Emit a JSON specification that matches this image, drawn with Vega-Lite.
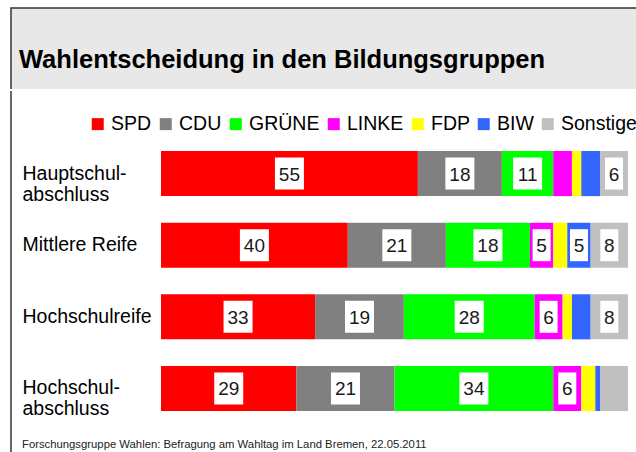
{
  "$schema": "https://vega.github.io/schema/vega-lite/v6.json",
  "padding": {"left": 10, "top": 7, "right": 0, "bottom": 0},
  "background": "white",
  "spacing": 0,
  "config": {
    "font": "Liberation Sans",
    "concat": {"spacing": 0}
  },
  "datasets": {
    "umfrage": [
      {"gruppe": "Hauptschul-|abschluss", "partei": "SPD", "anteil": 55, "label": 55},
      {"gruppe": "Hauptschul-|abschluss", "partei": "CDU", "anteil": 18, "label": 18},
      {"gruppe": "Hauptschul-|abschluss", "partei": "GRÜNE", "anteil": 11, "label": 11},
      {"gruppe": "Hauptschul-|abschluss", "partei": "LINKE", "anteil": 4, "label": null},
      {"gruppe": "Hauptschul-|abschluss", "partei": "FDP", "anteil": 2, "label": null},
      {"gruppe": "Hauptschul-|abschluss", "partei": "BIW", "anteil": 4, "label": null},
      {"gruppe": "Hauptschul-|abschluss", "partei": "Sonstige", "anteil": 6, "label": 6},
      {"gruppe": "Mittlere Reife", "partei": "SPD", "anteil": 40, "label": 40},
      {"gruppe": "Mittlere Reife", "partei": "CDU", "anteil": 21, "label": 21},
      {"gruppe": "Mittlere Reife", "partei": "GRÜNE", "anteil": 18, "label": 18},
      {"gruppe": "Mittlere Reife", "partei": "LINKE", "anteil": 5, "label": 5},
      {"gruppe": "Mittlere Reife", "partei": "FDP", "anteil": 3, "label": null},
      {"gruppe": "Mittlere Reife", "partei": "BIW", "anteil": 5, "label": 5},
      {"gruppe": "Mittlere Reife", "partei": "Sonstige", "anteil": 8, "label": 8},
      {"gruppe": "Hochschulreife", "partei": "SPD", "anteil": 33, "label": 33},
      {"gruppe": "Hochschulreife", "partei": "CDU", "anteil": 19, "label": 19},
      {"gruppe": "Hochschulreife", "partei": "GRÜNE", "anteil": 28, "label": 28},
      {"gruppe": "Hochschulreife", "partei": "LINKE", "anteil": 6, "label": 6},
      {"gruppe": "Hochschulreife", "partei": "FDP", "anteil": 2, "label": null},
      {"gruppe": "Hochschulreife", "partei": "BIW", "anteil": 4, "label": null},
      {"gruppe": "Hochschulreife", "partei": "Sonstige", "anteil": 8, "label": 8},
      {"gruppe": "Hochschul-|abschluss", "partei": "SPD", "anteil": 29, "label": 29},
      {"gruppe": "Hochschul-|abschluss", "partei": "CDU", "anteil": 21, "label": 21},
      {"gruppe": "Hochschul-|abschluss", "partei": "GRÜNE", "anteil": 34, "label": 34},
      {"gruppe": "Hochschul-|abschluss", "partei": "LINKE", "anteil": 6, "label": 6},
      {"gruppe": "Hochschul-|abschluss", "partei": "FDP", "anteil": 3, "label": null},
      {"gruppe": "Hochschul-|abschluss", "partei": "BIW", "anteil": 1, "label": null},
      {"gruppe": "Hochschul-|abschluss", "partei": "Sonstige", "anteil": 6, "label": null}
    ]
  },
  "vconcat": [
    {
      "width": 630,
      "height": 81,
      "view": {"fill": "#e8e8e8", "stroke": "#333333", "strokeWidth": 1.5, "strokeDash": [711, 630, 200]},
      "title": {
        "text": "Wahlentscheidung in den Bildungsgruppen",
        "orient": "bottom",
        "anchor": "start",
        "frame": "group",
        "offset": -21,
        "baseline": "alphabetic",
        "dx": 8,
        "fontSize": 25.5,
        "fontWeight": "bold",
        "color": "#000000"
      },
      "data": {"values": [{}]},
      "mark": {"type": "text", "text": ""},
      "encoding": {}
    },
    {
      "width": 630,
      "height": 364,
      "view": {"fill": "white", "stroke": "#333333", "strokeWidth": 1.5, "strokeDash": [0, 1624, 400]},
      "title": {
        "text": "Forschungsgruppe Wahlen: Befragung am Wahltag im Land Bremen, 22.05.2011",
        "orient": "bottom",
        "anchor": "start",
        "frame": "group",
        "offset": -10,
        "baseline": "middle",
        "dx": 11,
        "fontSize": 11.3,
        "fontWeight": "normal",
        "color": "#222222"
      },
      "data": {"name": "umfrage"},
      "transform": [
        {"calculate": "indexof(['SPD','CDU','GRÜNE','LINKE','FDP','BIW','Sonstige'], datum.partei)", "as": "reihenfolge"},
        {"stack": "anteil", "groupby": ["gruppe"], "sort": [{"field": "reihenfolge", "order": "ascending"}], "as": ["x0", "x1"]},
        {"calculate": "(datum.x0 + datum.x1) / 2", "as": "mitte"}
      ],
      "encoding": {
        "y": {
          "field": "gruppe",
          "type": "nominal",
          "sort": ["Hauptschul-|abschluss", "Mittlere Reife", "Hochschulreife", "Hochschul-|abschluss"],
          "scale": {"range": [60, 320], "paddingInner": 0.37, "paddingOuter": 0},
          "axis": {
            "title": null,
            "domain": false,
            "ticks": false,
            "grid": false,
            "labelAlign": "left",
            "labelBaseline": "middle",
            "labelPadding": -11,
            "labelFontSize": 19.5,
            "labelLineHeight": 21,
            "labelColor": "#000000",
            "labelLimit": 0,
            "labelExpr": "split(datum.label, '|')"
          }
        }
      },
      "layer": [
        {
          "mark": {"type": "bar"},
          "encoding": {
            "x": {"field": "x0", "type": "quantitative", "scale": {"domain": [0, 100], "range": [150, 617]}, "axis": null},
            "x2": {"field": "x1"},
            "color": {
              "field": "partei",
              "type": "nominal",
              "scale": {
                "domain": ["SPD", "CDU", "GRÜNE", "LINKE", "FDP", "BIW", "Sonstige"],
                "range": ["#ff0000", "#808080", "#00ff00", "#ff00ff", "#ffff00", "#3366ff", "#c0c0c0"]
              },
              "legend": {
                "orient": "none",
                "legendX": 77,
                "legendY": 106,
                "direction": "horizontal",
                "title": null,
                "symbolType": "square",
                "symbolSize": 144,
                "symbolStrokeWidth": 0,
                "symbolOpacity": 1,
                "labelFontSize": 19.5,
                "labelColor": "#000000",
                "labelOffset": 3.5,
                "columnPadding": 4,
                "padding": 0,
                "labelLimit": 0
              }
            }
          }
        },
        {
          "transform": [{"filter": "isValid(datum.label)"}],
          "mark": {"type": "point", "filled": true, "fill": "white", "opacity": 1, "strokeWidth": 0, "size": 400},
          "encoding": {
            "x": {"field": "mitte", "type": "quantitative"},
            "shape": {
              "condition": {"test": "datum.label >= 10", "value": "M-1.45,-1.6H1.45V1.6H-1.45Z"},
              "value": "M-0.9,-1.6H0.9V1.6H-0.9Z"
            }
          }
        },
        {
          "transform": [{"filter": "isValid(datum.label)"}],
          "mark": {"type": "text", "fontSize": 19, "color": "#1a1a1a", "align": "center", "baseline": "middle", "dy": 1},
          "encoding": {
            "x": {"field": "mitte", "type": "quantitative"},
            "text": {"field": "label", "type": "quantitative"}
          }
        }
      ]
    }
  ]
}
